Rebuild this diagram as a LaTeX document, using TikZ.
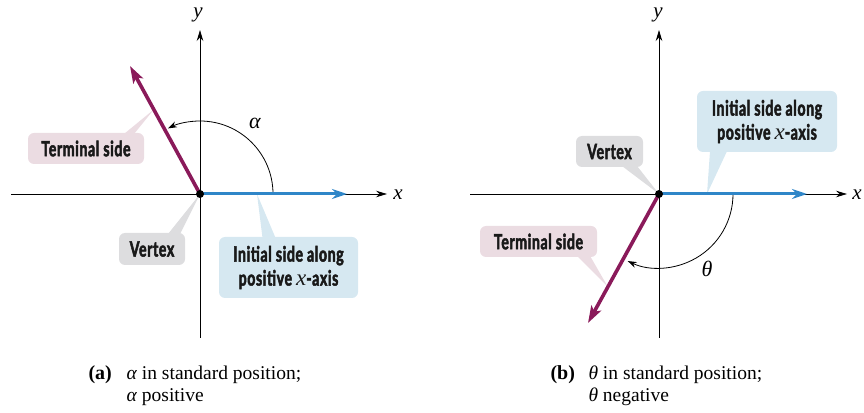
\documentclass[tikz,border=0pt]{standalone}
\usepackage{fontspec}
\setmainfont{Liberation Serif}
\newfontfamily\lblfont[FakeStretch=0.67,FakeBold=2.4,LetterSpace=3]{Lato}
\usetikzlibrary{arrows.meta,calc}
\definecolor{termc}{HTML}{8A1A5A}
\definecolor{initc}{HTML}{2F86C8}
\definecolor{pinkf}{HTML}{EBDCE2}
\definecolor{grayf}{HTML}{DDDDDF}
\definecolor{bluef}{HTML}{D6E8F1}
\begin{document}
\begin{tikzpicture}[x=1pt,y=1pt,
  axis/.style={line width=0.8pt,-{Stealth[length=11pt,width=6.5pt]}},
  initside/.style={initc,line width=3pt,-{Stealth[length=15pt,width=10pt]}},
  termside/.style={termc,line width=3.6pt,-{Stealth[length=17pt,width=11pt,inset=4pt]}},
  anglearc/.style={line width=0.8pt,-{Stealth[length=9pt,width=6pt]}},
  lbl/.style={font=\lblfont\bfseries\fontsize{21}{24}\selectfont,text=black!90,
    rounded corners=6pt,inner sep=0pt,align=center},
  axlbl/.style={font=\fontsize{21}{21}\selectfont\itshape,inner sep=1pt},
  captext/.style={anchor=base west,font=\fontsize{19.5}{21}\selectfont}]
\useasboundingbox (0,0) rectangle (864,412);

% ---------------- panel (a) ----------------
\coordinate (Oa) at (200,218);
\coordinate (Ta) at (130,346);
\coordinate (Ia) at (347,218);
\coordinate (Pta) at ($(Oa)!0.66!(Ta)$);
\coordinate (Pia) at (257,218);

\node[lbl,fill=pinkf,minimum width=116pt,minimum height=31pt] (termA) at (86,263.5) {Terminal side};
\node[lbl,fill=grayf,minimum width=66pt,minimum height=32pt] (vertA) at (152,163) {Vertex};
\node[lbl,fill=bluef,minimum width=139pt,minimum height=61pt] (initA) at (288.5,144.5)
  {Initial side along\\positive {\rmfamily\itshape\mdseries\fontsize{23}{24}\selectfont x}-axis};

\fill[pinkf] ([xshift=-20pt,yshift=-1pt]termA.north east) -- ([xshift=-10pt,yshift=-1pt]termA.north east) -- (Pta) -- cycle;
\fill[grayf] ([xshift=-17pt,yshift=-1pt]vertA.north east) -- ([xshift=-5pt,yshift=-1pt]vertA.north east) -- (Oa) -- cycle;
\fill[bluef] ([xshift=-26pt,yshift=-1pt]initA.north) -- ([xshift=-13pt,yshift=-1pt]initA.north) -- (Pia) -- cycle;

\coordinate (xa0) at (11,218);
\coordinate (xa1) at (387,218);
\coordinate (ya0) at (200,74);
\coordinate (ya1) at (200,382);
\draw[axis] (xa0) -- (xa1);
\draw[axis] (ya0) -- (ya1);
\node[axlbl] (xlA) at (398,217) {x};
\node[axlbl] (ylA) at (198,397) {y};

\draw[anglearc] ($(Oa)+(73,0)$) arc[start angle=0,end angle=116,radius=73];
\node[font=\fontsize{22}{22}\selectfont\itshape] (alA) at (255,289) {α};

\draw[initside] (Oa) -- (Ia);
\draw[termside] (Oa) -- (Ta);
\fill (Oa) circle (4pt);

\node[captext,font=\fontsize{20}{21}\selectfont\bfseries] (capA) at (85,32) {(a)};
\node[captext] (capA1) at (123,32) {\textit{α} in standard position;};
\node[captext] (capA2) at (123,11) {\textit{α} positive};

% ---------------- panel (b) ----------------
\coordinate (Ob) at (659,218);
\coordinate (Tb) at (588,89);
\coordinate (Ib) at (807,218);
\coordinate (Ptb) at ($(Ob)!0.72!(Tb)$);
\coordinate (Pib) at (707,218);

\node[lbl,fill=pinkf,minimum width=117pt,minimum height=31pt] (termB) at (538.5,170.5) {Terminal side};
\node[lbl,fill=grayf,minimum width=67pt,minimum height=31pt] (vertB) at (609.5,260.5) {Vertex};
\node[lbl,fill=bluef,minimum width=140pt,minimum height=61pt] (initB) at (767,290.5)
  {Initial side along\\positive {\rmfamily\itshape\mdseries\fontsize{23}{24}\selectfont x}-axis};

\fill[pinkf] ([xshift=-20pt,yshift=1pt]termB.south east) -- ([xshift=-7pt,yshift=1pt]termB.south east) -- (Ptb) -- cycle;
\fill[grayf] ([xshift=-21pt,yshift=1pt]vertB.south east) -- ([xshift=-6pt,yshift=1pt]vertB.south east) -- (Ob) -- cycle;
\fill[bluef] ([xshift=-57pt,yshift=1pt]initB.south) -- ([xshift=-40pt,yshift=1pt]initB.south) -- (Pib) -- cycle;

\coordinate (xb0) at (470,218);
\coordinate (xb1) at (847,218);
\coordinate (yb0) at (659,74);
\coordinate (yb1) at (659,382);
\draw[axis] (xb0) -- (xb1);
\draw[axis] (yb0) -- (yb1);
\node[axlbl] (xlB) at (857,217) {x};
\node[axlbl] (ylB) at (658,397) {y};

\draw[anglearc] ($(Ob)+(74,0)$) arc[start angle=0,end angle=-115,radius=74];
\node[font=\fontsize{22}{22}\selectfont\itshape] (thB) at (707,143) {θ};

\draw[initside] (Ob) -- (Ib);
\draw[termside] (Ob) -- (Tb);
\fill (Ob) circle (4pt);

\node[captext,font=\fontsize{20}{21}\selectfont\bfseries] (capB) at (547,32) {(b)};
\node[captext] (capB1) at (585,32) {\textit{θ} in standard position;};
\node[captext] (capB2) at (585,11) {\textit{θ} negative};
\end{tikzpicture}
\end{document}
